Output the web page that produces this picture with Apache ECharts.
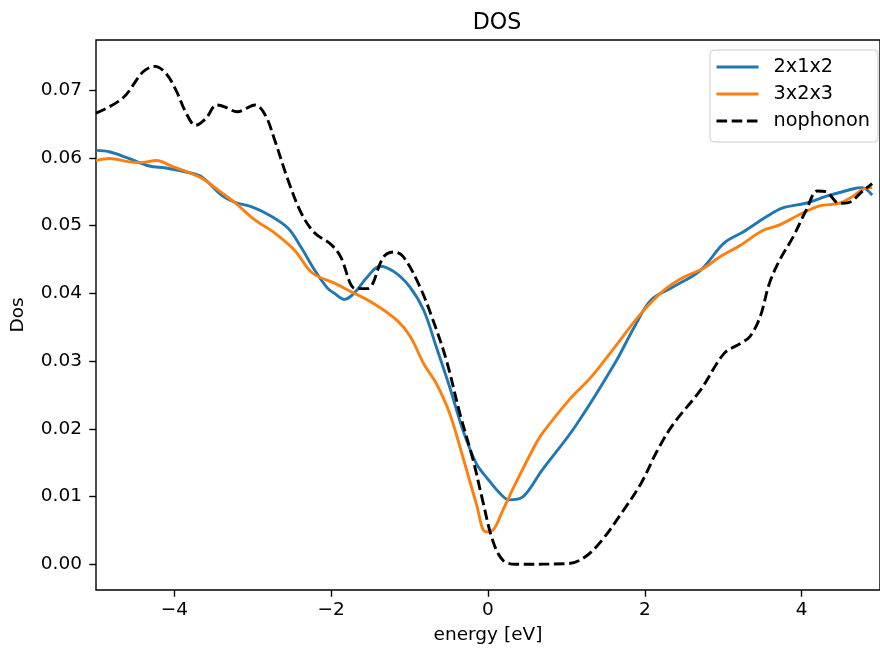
<!DOCTYPE html>
<html>
<head>
<meta charset="utf-8">
<script src="https://cdn.jsdelivr.net/npm/echarts@6/dist/echarts.min.js"></script>
<style>
  html, body { margin: 0; padding: 0; background: #fff; }
  #chart { width: 880px; height: 655px; }
</style>
</head>
<body>
<div id="chart"></div>
<script>
// values
var eBlue = [-5.00, -4.83, -4.60, -4.32, -4.11, -3.81, -3.65, -3.40, -3.22, -3.02, -2.80, -2.55, -2.39, -2.21, -2.05, -1.96, -1.83, -1.71, -1.54, -1.38, -1.20, -1.00, -0.82, -0.66, -0.49, -0.32, -0.15, 0.01, 0.15, 0.27, 0.44, 0.69, 1.11, 1.62, 1.87, 2.08, 2.37, 2.71, 3.01, 3.26, 3.55, 3.76, 4.05, 4.31, 4.65, 4.77, 4.90]
var dosBlue = [0.0611, 0.0609, 0.0600, 0.0588, 0.0585, 0.0578, 0.0572, 0.0545, 0.0534, 0.0528, 0.0516, 0.0496, 0.0469, 0.0434, 0.0408, 0.0400, 0.0391, 0.0400, 0.0424, 0.0440, 0.0432, 0.0410, 0.0375, 0.0321, 0.0262, 0.0198, 0.0149, 0.0124, 0.0105, 0.0095, 0.0099, 0.0139, 0.0203, 0.0297, 0.0351, 0.0390, 0.0410, 0.0434, 0.0474, 0.0491, 0.0513, 0.0526, 0.0533, 0.0543, 0.0554, 0.0556, 0.0545]

var eOrange = [-5.00, -4.83, -4.57, -4.44, -4.23, -4.02, -3.81, -3.65, -3.39, -3.22, -2.97, -2.72, -2.47, -2.24, -1.96, -1.79, -1.46, -1.16, -0.99, -0.82, -0.66, -0.49, -0.32, -0.15, -0.03, 0.06, 0.19, 0.35, 0.61, 0.69, 1.03, 1.32, 1.62, 1.95, 2.25, 2.50, 2.75, 2.96, 3.22, 3.51, 3.72, 3.97, 4.23, 4.48, 4.65, 4.81, 4.90]
var dosOrange = [0.0596, 0.0599, 0.0594, 0.0593, 0.0596, 0.0587, 0.0578, 0.0570, 0.0548, 0.0533, 0.0508, 0.0489, 0.0464, 0.0430, 0.0415, 0.0405, 0.0385, 0.0360, 0.0336, 0.0296, 0.0267, 0.0223, 0.0158, 0.0090, 0.0048, 0.0050, 0.0080, 0.0119, 0.0178, 0.0193, 0.0242, 0.0277, 0.0321, 0.0370, 0.0405, 0.0424, 0.0437, 0.0454, 0.0471, 0.0493, 0.0501, 0.0516, 0.0529, 0.0533, 0.0543, 0.0555, 0.0556]

var eBlack = [-5.00, -4.66, -4.40, -4.25, -4.11, -3.98, -3.85, -3.73, -3.60, -3.46, -3.35, -3.20, -2.97, -2.84, -2.72, -2.55, -2.38, -2.21, -2.00, -1.88, -1.69, -1.54, -1.33, -1.20, -1.08, -0.87, -0.70, -0.53, -0.36, -0.19, -0.07, 0.06, 0.19, 0.35, 1.03, 1.24, 1.45, 1.70, 1.95, 2.16, 2.37, 2.71, 3.01, 3.22, 3.34, 3.47, 3.59, 3.72, 3.89, 4.06, 4.20, 4.31, 4.48, 4.60, 4.77, 4.90]
var dosBlack = [0.0666, 0.0688, 0.0727, 0.0735, 0.0725, 0.0700, 0.0666, 0.0648, 0.0658, 0.0678, 0.0675, 0.0668, 0.0678, 0.0663, 0.0626, 0.0567, 0.0518, 0.0489, 0.0472, 0.0454, 0.0407, 0.0407, 0.0454, 0.0461, 0.0454, 0.0410, 0.0360, 0.0301, 0.0223, 0.0154, 0.0095, 0.0035, 0.0006, 0.0000, 0.0001, 0.0011, 0.0035, 0.0075, 0.0119, 0.0168, 0.0208, 0.0257, 0.0311, 0.0326, 0.0336, 0.0365, 0.0415, 0.0449, 0.0483, 0.0523, 0.0551, 0.0550, 0.0533, 0.0534, 0.0550, 0.0562]

var xTicks = [-4, -2, 0, 2, 4]
var yTicks = [0, 0.01, 0.02, 0.03, 0.04, 0.05, 0.06, 0.07]

function pairs(xs, ys) {
  var out = []
  for (var i = 0; i < xs.length; i++) out.push([xs[i], ys[i]])
  return out
}

var font = 'DejaVu Sans'
var myChart = echarts.init(document.getElementById('chart'))
myChart.setOption({
  backgroundColor: '#fff',
  animation: false,
  title: {
    text: 'DOS',
    left: 492,
    textAlign: 'center',
    top: 7,
    textStyle: { fontFamily: font, fontSize: 22.2, fontWeight: 'normal', color: '#000' }
  },
  legend: {
    orient: 'vertical',
    right: 2,
    top: 50,
    itemWidth: 42,
    itemHeight: 14,
    itemGap: 5,
    padding: [6, 8, 10, 5],
    borderColor: '#cccccc',
    borderWidth: 1,
    borderRadius: 4,
    backgroundColor: 'rgba(255,255,255,0.8)',
    itemStyle: { opacity: 0 },
    lineStyle: { width: 2.9 },
    textStyle: { fontFamily: font, fontSize: 19.3, color: '#000', lineHeight: 22, padding: [0, 0, 0, 10] },
    data: ['2x1x2', '3x2x3', 'nophonon']
  },
  grid: {
    left: 96,
    top: 40,
    right: -9,
    bottom: 65,
    show: true,
    borderColor: '#000',
    borderWidth: 1.4
  },
  xAxis: {
    type: 'value',
    min: -5,
    max: 5,
    name: 'energy [eV]',
    nameLocation: 'middle',
    nameGap: 36,
    nameTextStyle: { fontFamily: font, fontSize: 18.5, color: '#000' },
    axisLine: { show: false, onZero: false },
    axisTick: { show: true, length: 6.7, lineStyle: { color: '#000', width: 1.4 }, customValues: xTicks },
    axisLabel: {
      fontFamily: font, fontSize: 18.5, color: '#000', margin: 11,
      customValues: xTicks,
      formatter: function (v) { return v < 0 ? '\u2212' + Math.abs(v) : String(v) }
    },
    splitLine: { show: false }
  },
  yAxis: {
    type: 'value',
    min: -0.0038,
    max: 0.0774,
    name: 'Dos',
    nameLocation: 'middle',
    nameGap: 68,
    nameTextStyle: { fontFamily: font, fontSize: 18.5, color: '#000' },
    axisLine: { show: false, onZero: false },
    axisTick: { show: true, length: 6.7, lineStyle: { color: '#000', width: 1.4 }, customValues: yTicks },
    axisLabel: {
      fontFamily: font, fontSize: 18.5, color: '#000', margin: 14,
      customValues: yTicks,
      formatter: function (v) { return v.toFixed(2) }
    },
    splitLine: { show: false }
  },
  series: [
    {
      name: '2x1x2',
      type: 'line',
      symbol: 'none',
      smooth: 0.35,
      lineStyle: { color: '#1f77b4', width: 2.9 },
      itemStyle: { color: '#1f77b4' },
      data: pairs(eBlue, dosBlue)
    },
    {
      name: '3x2x3',
      type: 'line',
      symbol: 'none',
      smooth: 0.35,
      lineStyle: { color: '#ff7f0e', width: 2.9 },
      itemStyle: { color: '#ff7f0e' },
      data: pairs(eOrange, dosOrange)
    },
    {
      name: 'nophonon',
      type: 'line',
      symbol: 'none',
      smooth: 0.35,
      lineStyle: { color: '#000', width: 2.9, type: [10.6, 4.6] },
      itemStyle: { color: '#000' },
      data: pairs(eBlack, dosBlack)
    }
  ]
})
</script>
</body>
</html>
